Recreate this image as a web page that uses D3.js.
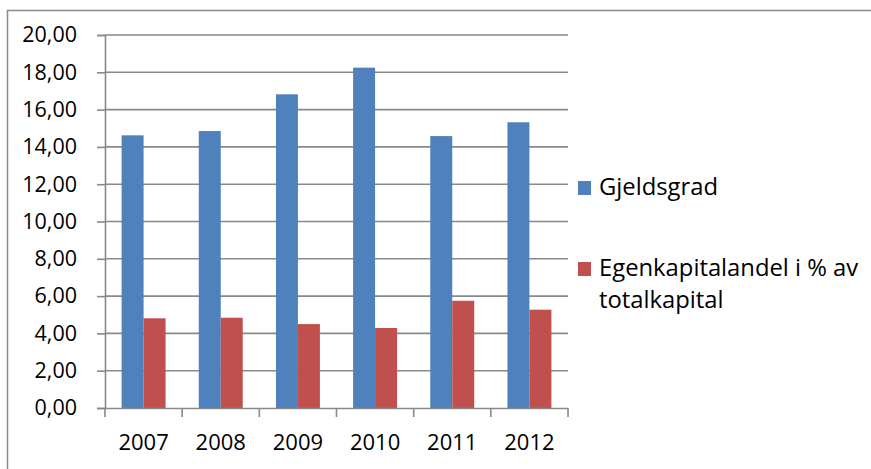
<!DOCTYPE html>
<html>
<head>
<meta charset="utf-8">
<script src="https://cdn.jsdelivr.net/npm/d3@7"></script>
<style>
  html, body { margin: 0; padding: 0; background: #fff; }
  svg { display: block; }
  text { font-family: "Open Sans", sans-serif; fill: #000; }
</style>
</head>
<body>
<svg id="chart" width="871" height="469"></svg>
<script>
// Financial ratios per year
const years = ["2007", "2008", "2009", "2010", "2011", "2012"];
const gjeldsgrad = [14.62, 14.85, 16.82, 18.25, 14.58, 15.32];
const egenkapitalandel = [4.81, 4.84, 4.50, 4.29, 5.75, 5.27];
const seriesNames = ["Gjeldsgrad", "Egenkapitalandel i % av totalkapital"];
const yTicks = [0, 2, 4, 6, 8, 10, 12, 14, 16, 18, 20];

const colors = ["#4F81BD", "#C0504D"];
const gridColor = "#898989";

const svg = d3.select("#chart");

// Outer chart frame
svg.append("rect")
  .attr("x", 7.5).attr("y", 10.5)
  .attr("width", 900).attr("height", 500)
  .attr("fill", "none")
  .attr("stroke", "#8a8a8a")
  .attr("stroke-width", 1.5);

const plot = { left: 105, right: 568, top: 35, bottom: 408 };

const x = d3.scaleBand()
  .domain(years)
  .range([plot.left, plot.right])
  .paddingInner(0).paddingOuter(0);

const x1 = d3.scaleBand()
  .domain([0, 1])
  .range([0, x.bandwidth()])
  .paddingInner(0).paddingOuter(0.755);

const y = d3.scaleLinear()
  .domain([0, 20])
  .range([plot.bottom, plot.top]);

const fmt = v => d3.format(".2f")(v).replace(".", ",");

// Horizontal gridlines
svg.append("g")
  .selectAll("line")
  .data(yTicks.filter(d => d > 0))
  .join("line")
  .attr("x1", plot.left).attr("x2", plot.right)
  .attr("y1", d => y(d)).attr("y2", d => y(d))
  .attr("stroke", gridColor)
  .attr("stroke-width", 1.6);

// Bars
const rows = years.map((yr, i) => ({ year: yr, values: [gjeldsgrad[i], egenkapitalandel[i]] }));
svg.append("g")
  .selectAll("g")
  .data(rows)
  .join("g")
  .attr("transform", d => `translate(${x(d.year)},0)`)
  .selectAll("rect")
  .data(d => d.values.map((v, k) => ({ v, k })))
  .join("rect")
  .attr("x", d => x1(d.k))
  .attr("width", x1.bandwidth())
  .attr("y", d => y(d.v))
  .attr("height", d => y(0) - y(d.v))
  .attr("fill", d => colors[d.k]);

// Y axis
const yAxis = svg.append("g")
  .attr("transform", `translate(${plot.left},0)`)
  .call(d3.axisLeft(y).tickValues(yTicks).tickFormat(fmt).tickSize(8).tickPadding(20));
yAxis.select(".domain").attr("stroke", gridColor).attr("stroke-width", 1.6);
yAxis.selectAll(".tick line").attr("stroke", gridColor).attr("stroke-width", 1.6);
yAxis.selectAll(".tick text")
  .attr("font-size", 21.5)
  .attr("font-family", "'Open Sans', sans-serif")
  .attr("fill", "#000");

// X axis: baseline, boundary ticks, centred year labels
const xAxis = svg.append("g")
  .attr("transform", `translate(0,${plot.bottom})`)
  .call(d3.axisBottom(x).tickSize(0).tickPadding(26));
xAxis.select(".domain").attr("stroke", gridColor).attr("stroke-width", 1.6);
xAxis.selectAll(".tick text")
  .attr("font-size", 22)
  .attr("font-family", "'Open Sans', sans-serif")
  .attr("fill", "#000");
xAxis.append("g")
  .selectAll("line")
  .data(years.map(d => x(d)).concat([x.range()[1]]))
  .join("line")
  .attr("x1", d => d).attr("x2", d => d)
  .attr("y1", 0).attr("y2", 9)
  .attr("stroke", gridColor)
  .attr("stroke-width", 1.6);

// Legend
const legend = svg.append("g").attr("font-size", 23.8);
const legendItems = [
  { color: colors[0], lines: [seriesNames[0]], top: 181 },
  { color: colors[1], lines: ["Egenkapitalandel i % av", "totalkapital"], top: 262 }
];
legendItems.forEach(item => {
  legend.append("rect")
    .attr("x", 578).attr("y", item.top)
    .attr("width", 13).attr("height", 14)
    .attr("fill", item.color);
  item.lines.forEach((line, i) => {
    legend.append("text")
      .attr("x", 599)
      .attr("y", item.top + 14 + i * 32)
      .text(line);
  });
});
</script>
</body>
</html>
